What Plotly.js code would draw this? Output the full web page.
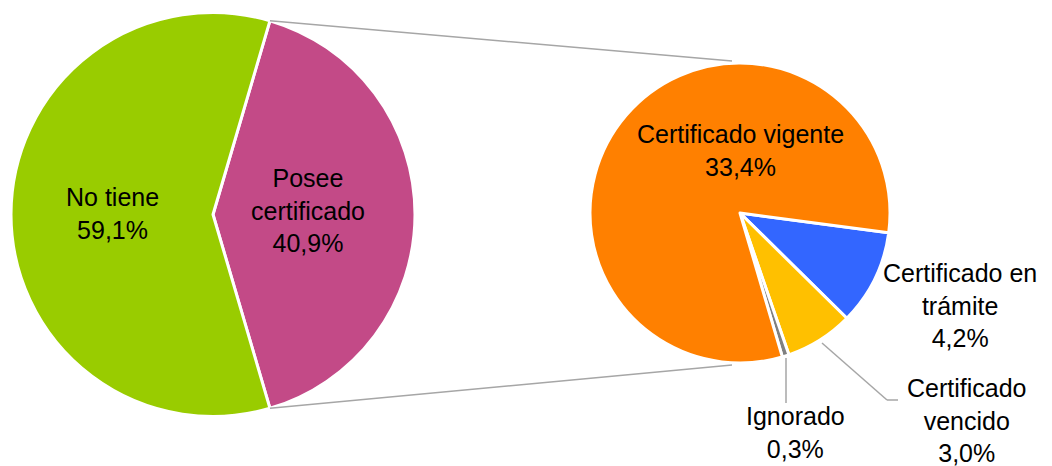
<!DOCTYPE html>
<html><head><meta charset="utf-8">
<script src="https://cdn.plot.ly/plotly-3.0.1.min.js"></script>
<style>html,body{margin:0;padding:0;background:#fff}#chart{width:1052px;height:466px}</style>
</head><body><div id="chart"></div>
<script>
// ---- data ----
const mainLabels = ['Posee certificado', 'No tiene'];
const mainText = ['Posee<br>certificado', 'No tiene'];
const mainValues = [40.9, 59.1];
const subLabels = ['Certificado en trámite', 'Certificado vencido', 'Ignorado', 'Certificado vigente'];
const subText = ['Certificado en<br>trámite', 'Certificado<br>vencido', 'Ignorado', 'Certificado vigente'];
const subValues = [4.2, 3.0, 0.3, 33.4];

// ---- styles ----
const mainColors = ['#C34A87', '#99CC00'];
const subColors = ['#3366FF', '#FFC000', '#808080', '#FF8000'];
const W = 1052, H = 466;
const P1 = {cx: 213, cy: 214.5, r: 202};
const P2 = {cx: 740, cy: 213, r: 150};
const rot2 = 97.6;
const fmt = v => v.toFixed(1).replace('.', ',') + '%';
const px = x => x / W, py = y => 1 - y / H;
const dom = p => ({x: [px(p.cx - p.r), px(p.cx + p.r)], y: [py(p.cy + p.r), py(p.cy - p.r)]});

const tot1 = mainValues.reduce((a, b) => a + b, 0);
const rot1 = 90 - (mainValues[0] / tot1) * 180;

const traces = [
  {type: 'pie', labels: mainLabels, values: mainValues, sort: false, direction: 'clockwise',
   rotation: rot1, domain: dom(P1), textinfo: 'none', hoverinfo: 'label+value',
   marker: {colors: mainColors, line: {color: '#FFFFFF', width: 3}}, showlegend: false},
  {type: 'pie', labels: subLabels, values: subValues, sort: false, direction: 'clockwise',
   rotation: rot2, domain: dom(P2), textinfo: 'none', hoverinfo: 'label+value',
   marker: {colors: subColors, line: {color: '#FFFFFF', width: 3}}, showlegend: false}
];

// connector lines from split slice edges to the secondary pie
const deg = Math.PI / 180;
const a1 = rot1 * deg, a2 = (rot1 + (mainValues[0] / tot1) * 360) * deg;
const e1 = [P1.cx + P1.r * Math.sin(a1), P1.cy - P1.r * Math.cos(a1)];
const e2 = [P1.cx + P1.r * Math.sin(a2), P1.cy - P1.r * Math.cos(a2)];
const lineStyle = {color: '#A6A6A6', width: 1.5};
const seg = (x0, y0, x1, y1) => ({type: 'line', xref: 'paper', yref: 'paper',
  x0: px(x0), y0: py(y0), x1: px(x1), y1: py(y1), line: lineStyle});
const shapes = [
  seg(e1[0], e1[1], P2.cx - 8, P2.cy - P2.r - 2),
  seg(e2[0], e2[1], P2.cx - 8, P2.cy + P2.r + 2),
  // leader: Ignorado
  seg(786, 358, 786, 403),
  // leader: vencido
  seg(822, 343, 887, 400),
  seg(887, 400, 898, 400)
];

const font = {family: 'Liberation Sans, Arial, sans-serif', size: 25, color: '#000000'};
const ann = (text, x, y) => ({xref: 'paper', yref: 'paper', x: px(x), y: py(y), text: text,
  showarrow: false, xanchor: 'center', yanchor: 'middle', align: 'center', font: font});
const annotations = [
  ann(mainText[1] + '<br>' + fmt(mainValues[1]), 112, 214),
  ann(mainText[0] + '<br>' + fmt(mainValues[0]), 308, 210),
  ann(subText[3] + '<br>' + fmt(subValues[3]), 740, 150),
  ann(subText[0] + '<br>' + fmt(subValues[0]), 960, 305),
  ann(subText[1] + '<br>' + fmt(subValues[1]), 967, 420),
  ann(subText[2] + '<br>' + fmt(subValues[2]), 795, 432)
];

Plotly.newPlot('chart', traces, {
  width: W, height: H, margin: {l: 0, r: 0, t: 0, b: 0},
  paper_bgcolor: '#FFFFFF', plot_bgcolor: '#FFFFFF',
  shapes: shapes, annotations: annotations, showlegend: false
}, {displayModeBar: false, staticPlot: true});
</script></body></html>
